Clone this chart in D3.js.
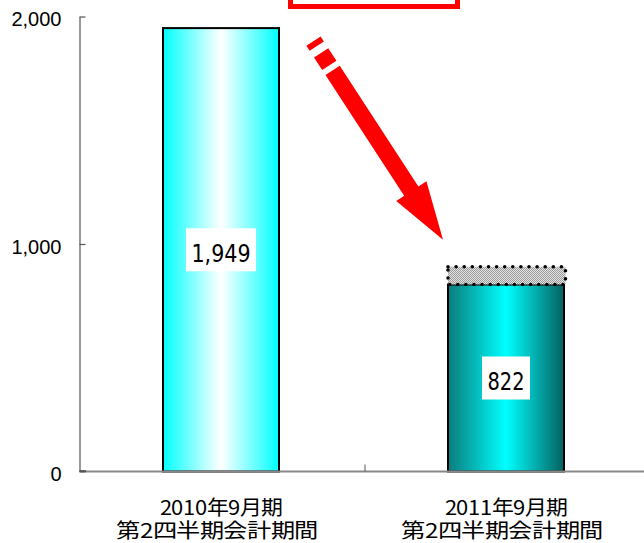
<!DOCTYPE html>
<html><head><meta charset="utf-8">
<script src="https://cdn.jsdelivr.net/npm/d3@7"></script>
<style>
@font-face {
  font-family: "CJKTight";
  src: local("Noto Sans CJK JP Regular"), local("NotoSansCJKjp-Regular"), local("Noto Sans CJK JP");
  ascent-override: 88%;
  descent-override: 12%;
  line-gap-override: 0%;
}
html,body{margin:0;padding:0;background:#fff;overflow:hidden;}
svg{display:block;}
</style></head>
<body>
<svg id="chart" width="644" height="543"></svg>
<script>
// ---- data ----
const categories = ["2010年9月期\n第2四半期会計期間", "2011年9月期\n第2四半期会計期間"];
const values = [1949, 822];
const valueLabels = ["1,949", "822"];
const extraTop = [null, 900];          // dotted/hatched estimate on top of 2nd bar
const yTicks = [0, 1000, 2000];
const yTickLabels = ["0", "1,000", "2,000"];

const svg = d3.select("#chart");
const x = d3.scaleBand().domain(categories).range([80, 650]).padding(0);
const y = d3.scaleLinear().domain([0, 2000]).range([471.5, 16.5]);
const barW = 116;
const cx = c => x(c) + x.bandwidth() / 2 - 1.5;

const defs = svg.append("defs");
const g1 = defs.append("linearGradient").attr("id", "grad1").attr("x1", "0").attr("x2", "1").attr("y1", "0").attr("y2", "0");
g1.append("stop").attr("offset", "0").attr("stop-color", "#00FFFF");
g1.append("stop").attr("offset", "0.5").attr("stop-color", "#FFFFFF");
g1.append("stop").attr("offset", "1").attr("stop-color", "#00FFFF");
const g2 = defs.append("linearGradient").attr("id", "grad2").attr("x1", "0").attr("x2", "1").attr("y1", "0").attr("y2", "0");
g2.append("stop").attr("offset", "0").attr("stop-color", "#0A7C7C");
g2.append("stop").attr("offset", "0.5").attr("stop-color", "#00FFFF");
g2.append("stop").attr("offset", "1").attr("stop-color", "#056060");
const pat = defs.append("pattern").attr("id", "hatch").attr("width", 2).attr("height", 2).attr("patternUnits", "userSpaceOnUse");
pat.append("rect").attr("width", 2).attr("height", 2).attr("fill", "#e4e4e4");
pat.append("rect").attr("width", 1).attr("height", 1).attr("fill", "#9a9a9a");
pat.append("rect").attr("x", 1).attr("y", 1).attr("width", 1).attr("height", 1).attr("fill", "#9a9a9a");

// red box at top (annotation frame, text cut off)
svg.append("rect").attr("x", 290.5).attr("y", -20).attr("width", 167).attr("height", 26.5)
  .attr("fill", "#fff").attr("stroke", "#FF0000").attr("stroke-width", 5);

// y axis
const yAxis = d3.axisLeft(y).tickValues(yTicks).tickFormat((d, i) => yTickLabels[i])
  .tickSizeInner(-6).tickSizeOuter(0).tickPadding(18);
const ya = svg.append("g").attr("transform", "translate(79.5,0)").call(yAxis);
ya.select(".domain").attr("stroke", "#555").attr("stroke-width", 1.2);
ya.selectAll(".tick line").attr("stroke", "#555").attr("stroke-width", 1.2);
ya.selectAll(".tick text").attr("font-family", "'Liberation Sans', Arial, sans-serif")
  .attr("font-size", 20).attr("fill", "#000").attr("dy", "0.45em");

// bars
categories.forEach((c, i) => {
  svg.append("rect").attr("x", cx(c) - barW / 2).attr("y", y(values[i]))
    .attr("width", barW).attr("height", y(0) - y(values[i]))
    .attr("fill", i === 0 ? "url(#grad1)" : "url(#grad2)")
    .attr("stroke", "#000").attr("stroke-width", 2);
});

// hatched dotted estimate on top of bar 2
categories.forEach((c, i) => {
  if (extraTop[i] == null) return;
  const x0 = cx(c) - barW / 2, yt = y(extraTop[i]), yb = y(values[i]);
  svg.append("rect").attr("x", x0).attr("y", yt).attr("width", barW + 1.5).attr("height", yb - yt)
    .attr("fill", "url(#hatch)");
  svg.append("rect").attr("x", x0).attr("y", yt).attr("width", barW + 1.5).attr("height", yb - yt)
    .attr("fill", "none").attr("stroke", "#000").attr("stroke-width", 3.6)
    .attr("stroke-linecap", "round").attr("stroke-dasharray", "0 8.1");
});

// x axis
svg.append("line").attr("x1", 80).attr("x2", 650).attr("y1", y(0)).attr("y2", y(0))
  .attr("stroke", "#888").attr("stroke-width", 2);
svg.append("line").attr("x1", 79.5).attr("x2", 86).attr("y1", y(0) - 0.5).attr("y2", y(0) - 0.5)
  .attr("stroke", "#444").attr("stroke-width", 1.5);
[x(categories[1])].forEach(b => {
  svg.append("line").attr("x1", b).attr("x2", b).attr("y1", y(0) - 7).attr("y2", y(0))
    .attr("stroke", "#555").attr("stroke-width", 1);
});

// value labels
const lblW = [59, 37];
categories.forEach((c, i) => {
  const mid = (y(values[i]) + y(0)) / 2;
  const bw = lblW[i] + 11;
  svg.append("rect").attr("x", cx(c) - bw / 2).attr("y", mid - 21.5).attr("width", bw).attr("height", 43)
    .attr("fill", "#fff");
  svg.append("text").attr("x", cx(c)).attr("y", mid + 12).attr("text-anchor", "middle")
    .attr("font-family", "'Liberation Sans Narrow', 'DejaVu Sans Condensed', 'Liberation Sans', sans-serif")
    .attr("font-size", 25).attr("fill", "#000")
    .attr("textLength", lblW[i]).attr("lengthAdjust", "spacingAndGlyphs")
    .text(valueLabels[i]);
});

// category labels (one text element, two lines)
categories.forEach((c, i) => {
  const lines = c.split("\n");
  const lens = [123, 202];
  const base = [515, 538];
  const off = [0, -4];
  const t = svg.append("text").attr("text-anchor", "middle")
    .attr("font-family", "CJKTight, 'Noto Sans CJK JP', sans-serif").attr("font-size", 20.5).attr("fill", "#000");
  lines.forEach((ln, j) => {
    t.append("tspan").attr("x", cx(c) + off[j]).attr("y", base[j])
      .attr("textLength", lens[j]).attr("lengthAdjust", "spacingAndGlyphs")
      .text(ln);
  });
});

// red dashed arrow from bar 1 toward bar 2
const S = [cx(categories[0]) + barW / 2 + 34.5, y(values[0]) + 13];
const T = [cx(categories[1]) - barW / 2 - 5, y(extraTop[1]) - 27];
const dx = T[0] - S[0], dy = T[1] - S[1], L = Math.hypot(dx, dy);
const u = [dx / L, dy / L], p = [-u[1], u[0]];
const headLen = 58, headHalf = 18;
const B = [S[0] + u[0] * (L - headLen), S[1] + u[1] * (L - headLen)];
svg.append("line").attr("x1", S[0]).attr("y1", S[1]).attr("x2", B[0] + u[0] * 2).attr("y2", B[1] + u[1] * 2)
  .attr("stroke", "#FF0000").attr("stroke-width", 17).attr("stroke-linecap", "butt")
  .attr("stroke-dasharray", "6 8 15 6 1000");
svg.append("path")
  .attr("d", `M${B[0] + p[0] * headHalf},${B[1] + p[1] * headHalf}L${T[0]},${T[1]}L${B[0] - p[0] * headHalf},${B[1] - p[1] * headHalf}Z`)
  .attr("fill", "#FF0000");
</script>
</body></html>
